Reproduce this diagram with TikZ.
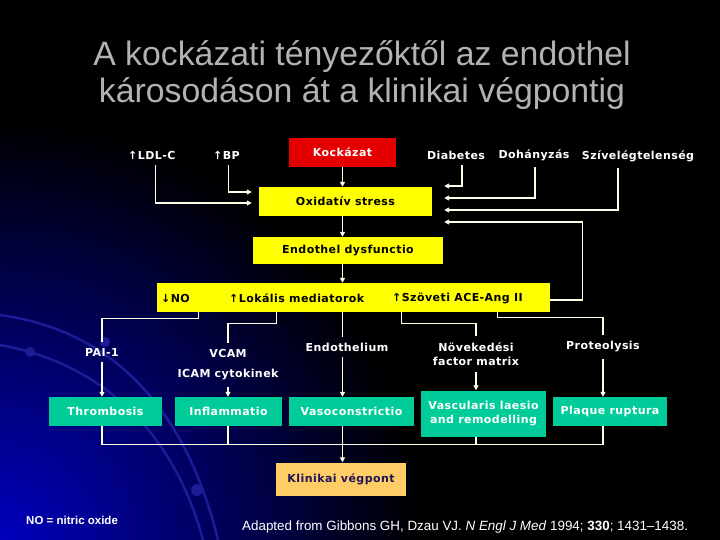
\documentclass[tikz,border=0pt]{standalone}
\usepackage{fontspec}
\setmainfont{DejaVu Sans}
\newfontfamily\boxfont[LetterSpace=4]{DejaVu Sans Bold}
\newfontfamily\titlefont{Liberation Sans}
\usetikzlibrary{positioning,arrows.meta,calc}
\definecolor{boxyellow}{RGB}{255,255,0}
\definecolor{boxred}{RGB}{228,0,0}
\definecolor{boxgreen}{RGB}{0,204,153}
\definecolor{boxorange}{RGB}{255,204,102}
\definecolor{navytext}{RGB}{30,20,90}
\definecolor{linecolor}{RGB}{255,255,230}
\definecolor{titlegrey}{RGB}{178,178,178}
\definecolor{glowblue}{RGB}{0,0,190}
\definecolor{arcblue}{RGB}{28,28,150}

\begin{document}
\begin{tikzpicture}[x=1pt,y=-1pt,
  every node/.style={inner sep=0pt},
  boxtext/.style={font=\boxfont\fontsize{11}{14}\selectfont},
  lbl/.style={boxtext, text=white, align=center, inner ysep=6pt},
  riskbox/.style={boxtext, fill=boxred, text=white, minimum width=107pt, minimum height=29pt},
  ybox/.style={boxtext, fill=boxyellow, text=black, minimum height=29pt},
  gbox/.style={boxtext, fill=boxgreen, text=white, minimum height=29pt, align=center},
  endbox/.style={boxtext, fill=boxorange, text=navytext, minimum width=130pt, minimum height=33pt},
  conn/.style={draw=linecolor, line width=1.3pt},
  arr/.style={conn, -{Triangle[length=5pt,width=5pt]}}]

  % background
  \useasboundingbox (0,0) rectangle (720,540);
  \fill[black] (0,0) rectangle (720,540);
  \begin{scope}
    \clip (0,0) rectangle (720,540);
    \shade[inner color=glowblue, outer color=black] (0,540) circle (420);
    \draw[arcblue, line width=2.5pt] (0,315) .. controls (110,330) and (185,405) .. (218,540);
    \draw[arcblue, line width=2.5pt] (0,345) .. controls (95,362) and (172,425) .. (203,540);
    \fill[arcblue] (30,352) circle (5) (105,342) circle (5) (197,490) circle (6);
  \end{scope}

  % title
  \node[text=titlegrey, font=\titlefont\fontsize{33.8}{37}\selectfont, align=center] (title) at (362,75)
       {A kockázati tényezőktől az endothel\\károsodáson át a klinikai végpontig};

  % risk factors
  \node[lbl, anchor=west] (ldl) at (128,155) {↑LDL-C};
  \node[lbl, anchor=west] (bp) at (213,155) {↑BP};
  \node[riskbox] (kock) at (342.5,152.5) {Kockázat};
  \node[lbl] (diab) at (456,155) {Diabetes};
  \node[lbl] (dohany) at (534,155) {Dohányzás};
  \node[lbl] (sziv) at (638,156) {Szívelégtelenség};

  \node[ybox, minimum width=173pt] (ox) at (345.5,201.5) {Oxidatív stress};
  \node[ybox, minimum width=190pt, minimum height=27pt] (endo) at (348,250.5) {Endothel dysfunctio};
  \node[ybox, minimum width=393pt] (bar) at (353.5,297.5) {};
  \node[boxtext, anchor=west] (no) at (161,298) {↓NO};
  \node[boxtext, anchor=west] (lok) at (229,298) {↑Lokális mediatorok};
  \node[boxtext, anchor=west] (ace) at (392,298) {↑Szöveti ACE-Ang II};

  % mediators
  \node[lbl] (pai) at (102,352) {PAI-1};
  \node[lbl] (vcam) at (228,353) {VCAM};
  \node[lbl] (icam) at (228,375) {ICAM cytokinek};
  \node[lbl] (endoth) at (347,347) {Endothelium};
  \node[lbl] (growth) at (476,354) {Növekedési\\factor matrix};
  \node[lbl] (prot) at (603,347) {Proteolysis};

  % outcomes
  \node[gbox, minimum width=113pt] (thromb) at (105.5,411.5) {Thrombosis};
  \node[gbox, minimum width=107pt] (infl) at (228.5,411.5) {Inflammatio};
  \node[gbox, minimum width=125pt] (vaso) at (351.5,411.5) {Vasoconstrictio};
  \node[gbox, minimum width=125pt, minimum height=46pt] (vasc) at (483.5,413.5) {Vascularis laesio\\and remodelling};
  \node[gbox, minimum width=114pt] (plaque) at (610,411.5) {Plaque ruptura};
  \node[endbox] (klin) at (341,479) {Klinikai végpont};

  \node[anchor=west, text=white, font=\titlefont\bfseries\fontsize{11.5}{13}\selectfont] (abbr) at (26,520) {NO = nitric oxide};
  \node[anchor=west, text=white, font=\titlefont\fontsize{13.4}{15}\selectfont] (source) at (242,527)
       {Adapted from Gibbons GH, Dzau VJ. \textit{N Engl J Med} 1994; \textbf{330}; 1431–1438.};

  % connectors
  \draw[arr] ([xshift=4pt]ldl.south) |- ($(ox.west)+(-7,1.5)$);
  \draw[arr] ([xshift=2pt]bp.south) |- ($(ox.west)+(-7,-9.5)$);
  \draw[arr] (kock.south) -- (kock.south |- ox.north);
  \draw[arr] ([xshift=6pt]diab.south) |- ($(ox.east)+(12,-15.5)$);
  \draw[arr] ([xshift=1pt]dohany.south) |- ($(ox.east)+(12,-3.5)$);
  \draw[arr] ([xshift=-20pt]sziv.south) |- ($(ox.east)+(12,8.5)$);
  \draw[arr] ($(bar.east)+(0,2.5)$) -| ($(ox.east)+(150,20.5)$) -- ($(ox.east)+(12,20.5)$);
  \draw[arr] (ox.south -| kock) -- (endo.north -| kock);
  \draw[arr] (endo.south -| kock) -- (bar.north -| kock);

  \draw[conn] ($(bar.south west)+(42,0)$) -- ++(0,6) -| (pai.north);
  \draw[conn] ($(bar.south west)+(120,0)$) -- ++(0,11) -| (vcam.north);
  \draw[conn] (bar.south -| kock) -- (endoth.north -| kock);
  \draw[conn] ($(bar.south west)+(245,0)$) -- ++(0,11) -| (growth.north);
  \draw[conn] ($(bar.south west)+(341,0)$) -- ++(0,5) -| (prot.north);

  \draw[arr] (pai.south) -- (pai.south |- thromb.north);
  \draw[arr] (icam.south) -- (icam.south |- infl.north);
  \draw[arr] (endoth.south -| kock) -- (vaso.north -| kock);
  \draw[arr] (growth.south) -- (growth.south |- vasc.north);
  \draw[arr] (prot.south) -- (prot.south |- plaque.north);

  \coordinate (bus) at ($(thromb.south -| pai)+(0,18)$);
  \draw[conn] (thromb.south -| pai) -- (bus) -| (plaque.south -| prot);
  \draw[conn] (infl.south -| icam) -- (icam |- bus);
  \draw[conn] (vasc.south -| growth) -- (growth |- bus);
  \draw[arr] (vaso.south -| kock) -- (klin.north -| kock);
\end{tikzpicture}
\end{document}
